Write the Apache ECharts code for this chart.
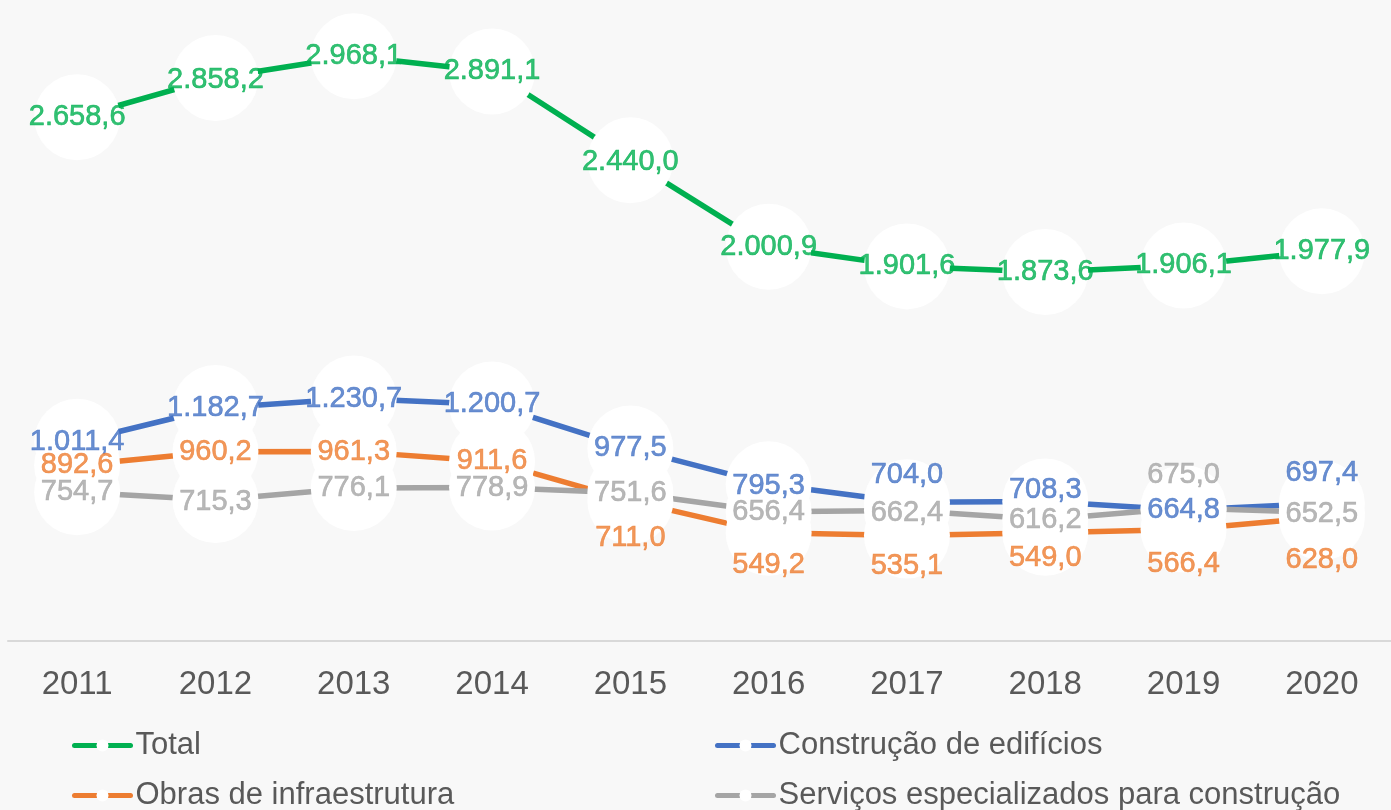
<!DOCTYPE html>
<html>
<head>
<meta charset="utf-8">
<title>Pessoal ocupado - construção</title>
<style>
  html, body { margin: 0; padding: 0; background: #f8f8f8; }
  #chart { width: 1391px; height: 810px; }
</style>
<script src="https://cdn.jsdelivr.net/npm/echarts@6/dist/echarts.min.js"></script>
</head>
<body>
<div id="chart"></div>
<script>
// anos
var years = ['2011', '2012', '2013', '2014', '2015', '2016', '2017', '2018', '2019', '2020'];
// nomes das séries
var names = ['Total', 'Construção de edifícios', 'Obras de infraestrutura', 'Serviços especializados para construção'];
// valores (mil)
var total = [2658.6, 2858.2, 2968.1, 2891.1, 2440.0, 2000.9, 1901.6, 1873.6, 1906.1, 1977.9];
var construcao = [1011.4, 1182.7, 1230.7, 1200.7, 977.5, 795.3, 704.0, 708.3, 664.8, 697.4];
var obras = [892.6, 960.2, 961.3, 911.6, 711.0, 549.2, 535.1, 549.0, 566.4, 628.0];
var servicos = [754.7, 715.3, 776.1, 778.9, 751.6, 656.4, 662.4, 616.2, 675.0, 652.5];

var colors = ['#00b050', '#4472c4', '#ed7d31', '#a5a5a5'];
var allData = [total, construcao, obras, servicos];

//deslocamento vertical dos rótulos que se sobrepõem (px)
var labelShift = [
  [0, 2, 0, 0, 2, 0, 0, 0, 0, 0],
  [0, 0, 0, 0, 0, 2, -27, -11, 0, -31],
  [0, 0, 0, 0, 37, 32, 30, 25, 35, 43],
  [0, 2, 0, 0, 0, 0, 2, 0, -33, 2]
];

// formato pt-BR: 2.658,6
function fmt(v) {
  var s = v.toFixed(1).split('.');
  s[0] = s[0].replace(/\B(?=(\d{3})+(?!\d))/g, '.');
  return s[0] + ',' + s[1];
}

var chart = echarts.init(document.getElementById('chart'));

var series = [];
// linhas
for (var i = 0; i < allData.length; i++) {
  series.push({
    name: names[i],
    type: 'line',
    data: allData[i],
    showSymbol: false,
    symbol: 'circle',
    symbolSize: 15,
    itemStyle: { color: '#ffffff' },
    lineStyle: { color: colors[i], width: 5.5 },
    z: 2,
    silent: true
  });
}
// círculos brancos
for (var i = 0; i < allData.length; i++) {
  var pts = [];
  for (var j = 0; j < years.length; j++) {
    pts.push([years[j], allData[i][j]]);
  }
  series.push({
    name: 'circ' + i,
    type: 'scatter',
    data: pts,
    symbol: 'circle',
    symbolSize: 86,
    itemStyle: { color: '#ffffff', opacity: 1 },
    z: 3,
    silent: true
  });
}
// rótulos
for (var i = 0; i < allData.length; i++) {
  var items = [];
  for (var j = 0; j < years.length; j++) {
    items.push({
      value: [years[j], allData[i][j]],
      label: { offset: [0, labelShift[i][j]] }
    });
  }
  series.push({
    name: 'rot' + i,
    type: 'scatter',
    data: items,
    symbolSize: 1,
    itemStyle: { color: 'rgba(0,0,0,0)' },
    label: {
      show: true,
      position: 'inside',
      color: colors[i],
      fontSize: 29,
      fontFamily: 'Liberation Sans',
      textBorderColor: colors[i],
      textBorderWidth: 0.6,
      formatter: function (p) { return fmt(p.value[1]); }
    },
    z: 4,
    silent: true
  });
}

// uma legenda por item, em duas colunas
function legendItem(name, left, top) {
  return {
    data: [name],
    left: left,
    top: top,
    padding: 0,
    itemWidth: 56,
    itemHeight: 15,
    lineStyle: { width: 5, cap: 'round' },
    textStyle: { color: '#595959', fontSize: 31, fontFamily: 'Liberation Sans', lineHeight: 31 }
  };
}

var option = {
  backgroundColor: '#f8f8f8',
  animation: false,
  grid: { left: 8, right: -19, top: 50, bottom: 169, containLabel: false },
  xAxis: {
    type: 'category',
    data: years,
    boundaryGap: true,
    axisTick: { show: false },
    axisLine: { lineStyle: { color: '#d9d9d9', width: 2 } },
    axisLabel: { color: '#595959', fontSize: 33, fontFamily: 'Liberation Sans', margin: 27 },
    splitLine: { show: false }
  },
  yAxis: {
    type: 'value',
    min: 0,
    max: 3000,
    show: false,
    splitLine: { show: false }
  },
  legend: [
    legendItem(names[0], 72, 730),
    legendItem(names[2], 72, 780),
    legendItem(names[1], 715, 730),
    legendItem(names[3], 715, 780)
  ],
  series: series
};

chart.setOption(option);
</script>
</body>
</html>
